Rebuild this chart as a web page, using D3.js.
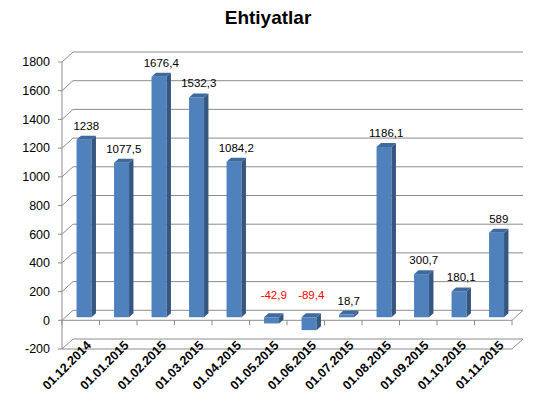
<!DOCTYPE html>
<html>
<head>
<meta charset="utf-8">
<script src="https://cdn.jsdelivr.net/npm/d3@7"></script>
<style>
  body { margin: 0; background: #fff; }
  text { font-family: "Liberation Sans", Arial, sans-serif; }
</style>
</head>
<body>
<svg id="chart" width="535" height="399"></svg>
<script>
// data
const categories = ['01.12.2014', '01.01.2015', '01.02.2015', '01.03.2015', '01.04.2015', '01.05.2015',
    '01.06.2015', '01.07.2015', '01.08.2015', '01.09.2015', '01.10.2015', '01.11.2015'];
const values = [1238, 1077.5, 1676.4, 1532.3, 1084.2, -42.9, -89.4, 18.7, 1186.1, 300.7, 180.1, 589];
const labels = ['1238', '1077,5', '1676,4', '1532,3', '1084,2', '-42,9', '-89,4', '18,7', '1186,1', '300,7', '180,1', '589'];
const yTicks = [-200, 0, 200, 400, 600, 800, 1000, 1200, 1400, 1600, 1800];

const svg = d3.select('#chart');

// 3d depth offset of the back wall
const depthX = 11, depthY = -10;
const left = 62, right = 512;

const x = d3.scaleBand().domain(categories).range([left, right]);
const y = d3.scaleLinear().domain([-200, 1800]).range([349, 62]);

// point at a given depth (0 = front, 1 = back)
const px = (vx, d) => vx + d * depthX;
const py = (vy, d) => vy + d * depthY;

// title
svg.append('text')
    .attr('x', 268)
    .attr('y', 24)
    .attr('text-anchor', 'middle')
    .style('font-size', '19px')
    .style('font-weight', 'bold')
    .text('Ehtiyatlar');

const grid = svg.append('g');
const gridColor = '#8c8c8c';

// gridlines: slanted part on the left wall + back wall line
yTicks.forEach((t) => {
    grid.append('line')
        .attr('x1', left).attr('y1', y(t))
        .attr('x2', px(left, 1)).attr('y2', py(y(t), 1))
        .attr('stroke', gridColor);
    grid.append('line')
        .attr('x1', px(left, 1)).attr('y1', py(y(t), 1))
        .attr('x2', px(right, 1)).attr('y2', py(y(t), 1))
        .attr('stroke', gridColor);
    // tick mark
    grid.append('line')
        .attr('x1', left - 4).attr('y1', y(t))
        .attr('x2', left).attr('y2', y(t))
        .attr('stroke', gridColor);
    grid.append('text')
        .attr('x', left - 12)
        .attr('y', y(t))
        .attr('dy', '0.35em')
        .attr('text-anchor', 'end')
        .style('font-size', '12.5px')
        .text(t);
});

// floor front edge and right edge
grid.append('line')
    .attr('x1', left).attr('y1', y(-200))
    .attr('x2', right).attr('y2', y(-200))
    .attr('stroke', gridColor);
grid.append('line')
    .attr('x1', right).attr('y1', y(-200))
    .attr('x2', px(right, 1)).attr('y2', py(y(-200), 1))
    .attr('stroke', gridColor);

// value axis
grid.append('line')
    .attr('x1', left).attr('y1', y(-200))
    .attr('x2', left).attr('y2', y(1800))
    .attr('stroke', gridColor);

// category axis at zero
grid.append('line')
    .attr('x1', left).attr('y1', y(0))
    .attr('x2', right).attr('y2', y(0))
    .attr('stroke', gridColor);
grid.append('line')
    .attr('x1', right).attr('y1', y(0))
    .attr('x2', px(right, 1)).attr('y2', py(y(0), 1))
    .attr('stroke', gridColor);
categories.concat([null]).forEach((c, i) => {
    let xx = left + i * x.step();
    grid.append('line')
        .attr('x1', xx).attr('y1', y(0))
        .attr('x2', xx).attr('y2', y(0) + 5)
        .attr('stroke', gridColor);
});

// bars
const barW = x.bandwidth() * 0.4;
const d0 = 0.3, d1 = 0.7;
const bars = svg.append('g');

values.forEach((v, i) => {
    let cx = x(categories[i]) + x.bandwidth() / 2;
    let x0 = cx - barW / 2, x1 = cx + barW / 2;
    let yt = y(Math.max(v, 0)), yb = y(Math.min(v, 0));

    // front face
    bars.append('path')
        .attr('d', `M${px(x0, d0)},${py(yt, d0)}L${px(x1, d0)},${py(yt, d0)}L${px(x1, d0)},${py(yb, d0)}L${px(x0, d0)},${py(yb, d0)}Z`)
        .attr('fill', '#4f81bd');
    // side face
    bars.append('path')
        .attr('d', `M${px(x1, d0)},${py(yt, d0)}L${px(x1, d1)},${py(yt, d1)}L${px(x1, d1)},${py(yb, d1)}L${px(x1, d0)},${py(yb, d0)}Z`)
        .attr('fill', '#35567f');
    // top face
    bars.append('path')
        .attr('d', `M${px(x0, d0)},${py(yt, d0)}L${px(x0, d1)},${py(yt, d1)}L${px(x1, d1)},${py(yt, d1)}L${px(x1, d0)},${py(yt, d0)}Z`)
        .attr('fill', '#3e6aa0');

    // data label
    let ly = v >= 0 ? py(yt, d1) - 6 : py(y(0), d1) - 14;
    bars.append('text')
        .attr('x', px(cx, 0.5))
        .attr('y', ly)
        .attr('text-anchor', 'middle')
        .style('font-size', '11.5px')
        .style('fill', v < 0 ? '#ff0000' : '#000')
        .text(labels[i]);
});

// category labels
svg.append('g').selectAll('text')
    .data(categories)
    .enter()
    .append('text')
    .attr('transform', (d) => `translate(${x(d) + x.bandwidth() / 2 + 5},${y(-200) - 9}) rotate(-45)`)
    .attr('text-anchor', 'end')
    .attr('dy', '0.7em')
    .style('font-size', '12.5px')
    .style('font-weight', 'bold')
    .text((d) => d);
</script>
</body>
</html>
